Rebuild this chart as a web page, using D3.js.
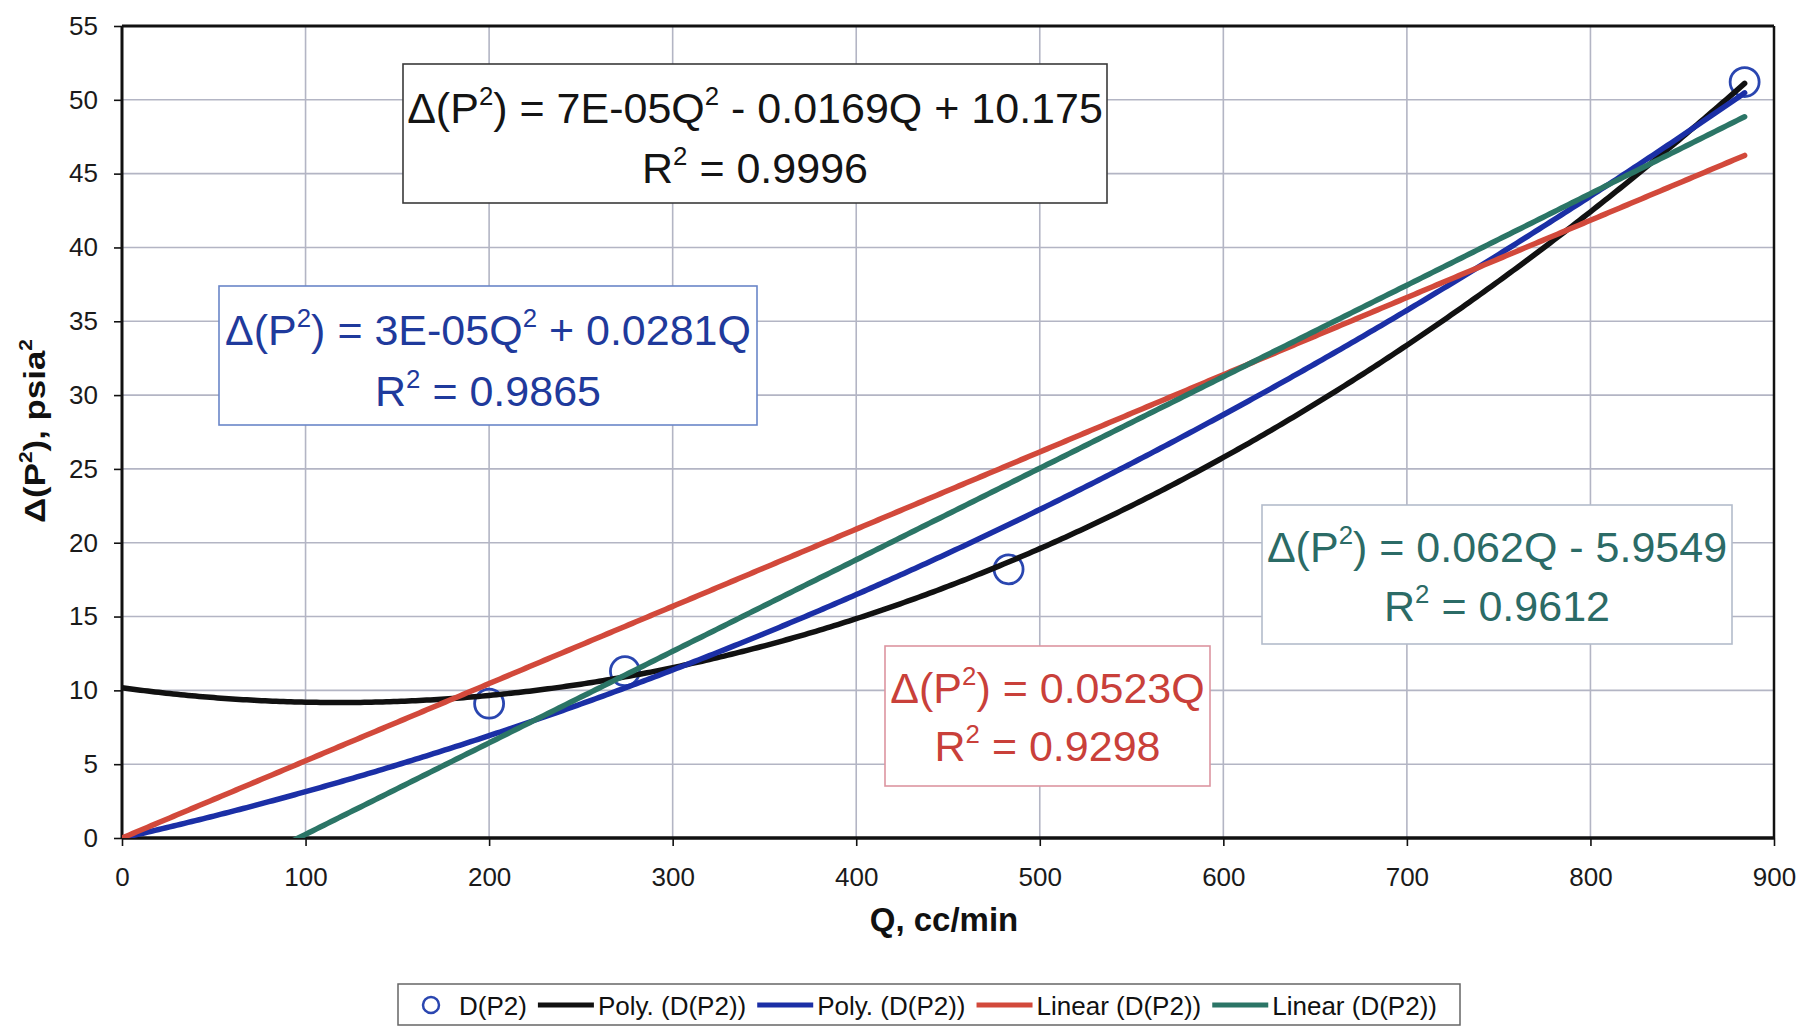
<!DOCTYPE html>
<html>
<head>
<meta charset="utf-8">
<script src="https://cdn.jsdelivr.net/npm/d3@7"></script>
<style>
  body { margin: 0; background: #ffffff; }
  svg { display: block; }
  text { font-family: "Liberation Sans", Arial, Helvetica, sans-serif; }
</style>
</head>
<body>
<script>
// Measured flow rate Q (cc/min) and the pressure-squared difference Δ(P²) (psia²)
const flowQ   = [200, 274, 483, 884];
const deltaP2 = [9.1, 11.3, 18.2, 51.2];

// Axis ticks
const xTicks = [0, 100, 200, 300, 400, 500, 600, 700, 800, 900];
const yTicks = [0, 5, 10, 15, 20, 25, 30, 35, 40, 45, 50, 55];

// Trendline coefficients, lowest power first (c0, c1, c2)
const polyBlackCoef = [10.175, -0.0169, 7.15e-5];
const polyBlueCoef  = [0, 0.0281, 3.28e-5];
const linRedCoef    = [0, 0.0523];
const linGreenCoef  = [-5.9549, 0.062];

// Coefficient of determination for each trendline (same order)
const rSquared = [0.9996, 0.9865, 0.9298, 0.9612];

// Legend entries
const legendLabels = ["D(P2)", "Poly. (D(P2))", "Poly. (D(P2))", "Linear (D(P2))", "Linear (D(P2))"];

// ---------------------------------------------------------------------------
const W = 1801, H = 1026;
const FONT = '"Liberation Sans", Arial, Helvetica, sans-serif';

const svg = d3.select("body").append("svg")
  .attr("width", W).attr("height", H)
  .attr("viewBox", `0 0 ${W} ${H}`);

svg.append("rect").attr("width", W).attr("height", H).attr("fill", "#ffffff");

const x = d3.scaleLinear().domain([0, 900]).range([122, 1774]);
const y = d3.scaleLinear().domain([0, 55]).range([838, 26]);

// Gridlines
const grid = svg.append("g").attr("stroke", "#b3b5c4").attr("stroke-width", 1.6);
grid.selectAll("line.gx").data(xTicks.slice(1, -1)).join("line")
  .attr("x1", d => x(d)).attr("x2", d => x(d))
  .attr("y1", y(55)).attr("y2", y(0));
grid.selectAll("line.gy").data(yTicks.slice(1, -1)).join("line")
  .attr("x1", x(0)).attr("x2", x(900))
  .attr("y1", d => y(d)).attr("y2", d => y(d));

// Axes
const yAxis = svg.append("g")
  .attr("transform", `translate(${x(0)},0)`)
  .call(d3.axisLeft(y).tickValues(yTicks).tickSize(8).tickPadding(16).tickFormat(d3.format("d")));
const xAxis = svg.append("g")
  .attr("transform", `translate(0,${y(0)})`)
  .call(d3.axisBottom(x).tickValues(xTicks).tickSize(8).tickPadding(22).tickFormat(d3.format("d")));
[yAxis, xAxis].forEach(a => {
  a.select(".domain").remove();
  a.selectAll(".tick line").attr("stroke", "#111").attr("stroke-width", 1.6);
  a.selectAll(".tick text").attr("fill", "#1a1a1a")
    .style("font-family", FONT).style("font-size", "26px");
});

// Plot frame
const frame = svg.append("g").attr("stroke", "#111").attr("fill", "none");
frame.append("line").attr("x1", x(0)).attr("x2", x(900)).attr("y1", y(55)).attr("y2", y(55)).attr("stroke-width", 3);
frame.append("line").attr("x1", x(900)).attr("x2", x(900)).attr("y1", y(55)).attr("y2", y(0)).attr("stroke-width", 2.5);
frame.append("line").attr("x1", x(0)).attr("x2", x(0)).attr("y1", y(55)).attr("y2", y(0)).attr("stroke-width", 3);
frame.append("line").attr("x1", x(0)).attr("x2", x(900)).attr("y1", y(0)).attr("y2", y(0)).attr("stroke-width", 3.5);

// Clip region for trendlines
svg.append("clipPath").attr("id", "plot-clip")
  .append("rect")
  .attr("x", x(0)).attr("y", y(55))
  .attr("width", x(900) - x(0)).attr("height", y(0) - y(55));

// Data markers (drawn below the trendlines)
const pointColor = "#2a46b0";
svg.append("g").selectAll("circle").data(flowQ.map((q, i) => [q, deltaP2[i]])).join("circle")
  .attr("cx", d => x(d[0])).attr("cy", d => y(d[1])).attr("r", 14.5)
  .attr("fill", "none").attr("stroke", pointColor).attr("stroke-width", 2.8);

// Trendlines, evaluated over 0 .. last measured Q
const evalPoly = (coef, q) => coef.reduce((s, c, i) => s + c * Math.pow(q, i), 0);
const qMax = d3.max(flowQ);
const qSamples = d3.range(0, qMax, 2).concat([qMax]);

const trends = [
  { coef: polyBlackCoef, color: "#111111", text: "#141414", border: "#3a3a3a" },
  { coef: polyBlueCoef,  color: "#1b2fa6", text: "#1f3a9c", border: "#6a86c8" },
  { coef: linRedCoef,    color: "#d2493b", text: "#c9403a", border: "#dc95a0" },
  { coef: linGreenCoef,  color: "#2b7566", text: "#2b6b66", border: "#b3bccb" }
];

const lineGen = d3.line().x(d => x(d[0])).y(d => y(d[1]));
svg.append("g").attr("clip-path", "url(#plot-clip)")
  .selectAll("path").data(trends).join("path")
  .attr("d", t => lineGen(qSamples.map(q => [q, evalPoly(t.coef, q)])))
  .attr("fill", "none").attr("stroke", t => t.color)
  .attr("stroke-width", 5.5).attr("stroke-linecap", "round").attr("stroke-linejoin", "round");

// ---------------------------------------------------------------------------
// Trendline equation labels
function fmtExp(v) {
  const [m, e] = Math.abs(v).toExponential(0).split("e");
  const ev = +e;
  return m + "E" + (ev < 0 ? "-" : "+") + String(Math.abs(ev)).padStart(2, "0");
}
function equationSegments(coef) {
  const segs = [{ t: "Δ(P" }, { t: "2", sup: true }, { t: ") = " }];
  let first = true;
  for (let p = coef.length - 1; p >= 0; p--) {
    const c = coef[p];
    if (c === 0) continue;
    const sign = c < 0 ? (first ? "-" : " - ") : (first ? "" : " + ");
    const num = p === 2 ? fmtExp(c) : String(Math.abs(c));
    if (p === 2) {
      segs.push({ t: sign + num + "Q" }, { t: "2", sup: true });
    } else if (p === 1) {
      segs.push({ t: sign + num + "Q" });
    } else {
      segs.push({ t: sign + num });
    }
    first = false;
  }
  return segs;
}
function rSquaredSegments(r) {
  return [{ t: "R" }, { t: "2", sup: true }, { t: " = " + r }];
}
function writeSegments(sel, segs, size) {
  const up = size * 0.42;
  let raised = false;
  segs.forEach(s => {
    const ts = sel.append("tspan").text(s.t);
    if (s.sup) {
      ts.style("font-size", (size * 0.6) + "px").attr("dy", -up);
      raised = true;
    } else if (raised) {
      ts.attr("dy", up);
      raised = false;
    }
  });
}

// Label box layout: [left, top, width, height, baseline1, baseline2]
const boxLayout = [
  [403, 64, 704, 139, 123, 183],
  [219, 286, 538, 139, 345, 406],
  [885, 646, 325, 140, 703, 761],
  [1262, 505, 470, 139, 562, 621]
];
const eqSize = 43;
trends.forEach((t, i) => {
  const [bx, by, bw, bh, b1, b2] = boxLayout[i];
  const g = svg.append("g");
  g.append("rect").attr("x", bx).attr("y", by).attr("width", bw).attr("height", bh)
    .attr("fill", "#ffffff").attr("stroke", t.border).attr("stroke-width", 1.6);
  const l1 = g.append("text").attr("x", bx + bw / 2).attr("y", b1)
    .attr("text-anchor", "middle").attr("fill", t.text)
    .style("font-size", eqSize + "px");
  writeSegments(l1, equationSegments(t.coef), eqSize);
  const l2 = g.append("text").attr("x", bx + bw / 2).attr("y", b2)
    .attr("text-anchor", "middle").attr("fill", t.text)
    .style("font-size", eqSize + "px");
  writeSegments(l2, rSquaredSegments(rSquared[i]), eqSize);
});

// ---------------------------------------------------------------------------
// Axis titles
svg.append("text")
  .attr("x", (x(0) + x(900)) / 2 - 4).attr("y", 931)
  .attr("text-anchor", "middle").attr("fill", "#111")
  .style("font-size", "33px").style("font-weight", "bold")
  .text("Q, cc/min");

const yTitleG = svg.append("g").attr("transform", "translate(45,431) rotate(-90)");
const yTitle = yTitleG.append("text")
  .attr("text-anchor", "middle").attr("fill", "#111")
  .style("font-size", "30px").style("font-weight", "bold");
writeSegments(yTitle, [{ t: "Δ(P" }, { t: "2", sup: true }, { t: "), psia" }, { t: "2", sup: true }], 30);
{
  const w = yTitle.node().getComputedTextLength();
  yTitle.attr("transform", `scale(${184 / w},1)`);
}

// ---------------------------------------------------------------------------
// Legend
const legendG = svg.append("g");
legendG.append("rect").attr("x", 398).attr("y", 984).attr("width", 1062).attr("height", 41)
  .attr("fill", "#ffffff").attr("stroke", "#666").attr("stroke-width", 1.5);
const legendY = 1005;
const legendSize = 26;
let lx = 423;
legendLabels.forEach((lab, i) => {
  if (i === 0) {
    legendG.append("circle").attr("cx", lx + 8).attr("cy", legendY).attr("r", 8)
      .attr("fill", "none").attr("stroke", pointColor).attr("stroke-width", 2.5);
    lx += 36;
  } else {
    legendG.append("line").attr("x1", lx).attr("x2", lx + 56)
      .attr("y1", legendY).attr("y2", legendY)
      .attr("stroke", trends[i - 1].color).attr("stroke-width", 5);
    lx += 60;
  }
  const tx = legendG.append("text").attr("x", lx).attr("y", legendY + 9.5)
    .attr("fill", "#111").style("font-size", legendSize + "px").text(lab);
  lx += tx.node().getComputedTextLength() + 11;
});
</script>
</body>
</html>
